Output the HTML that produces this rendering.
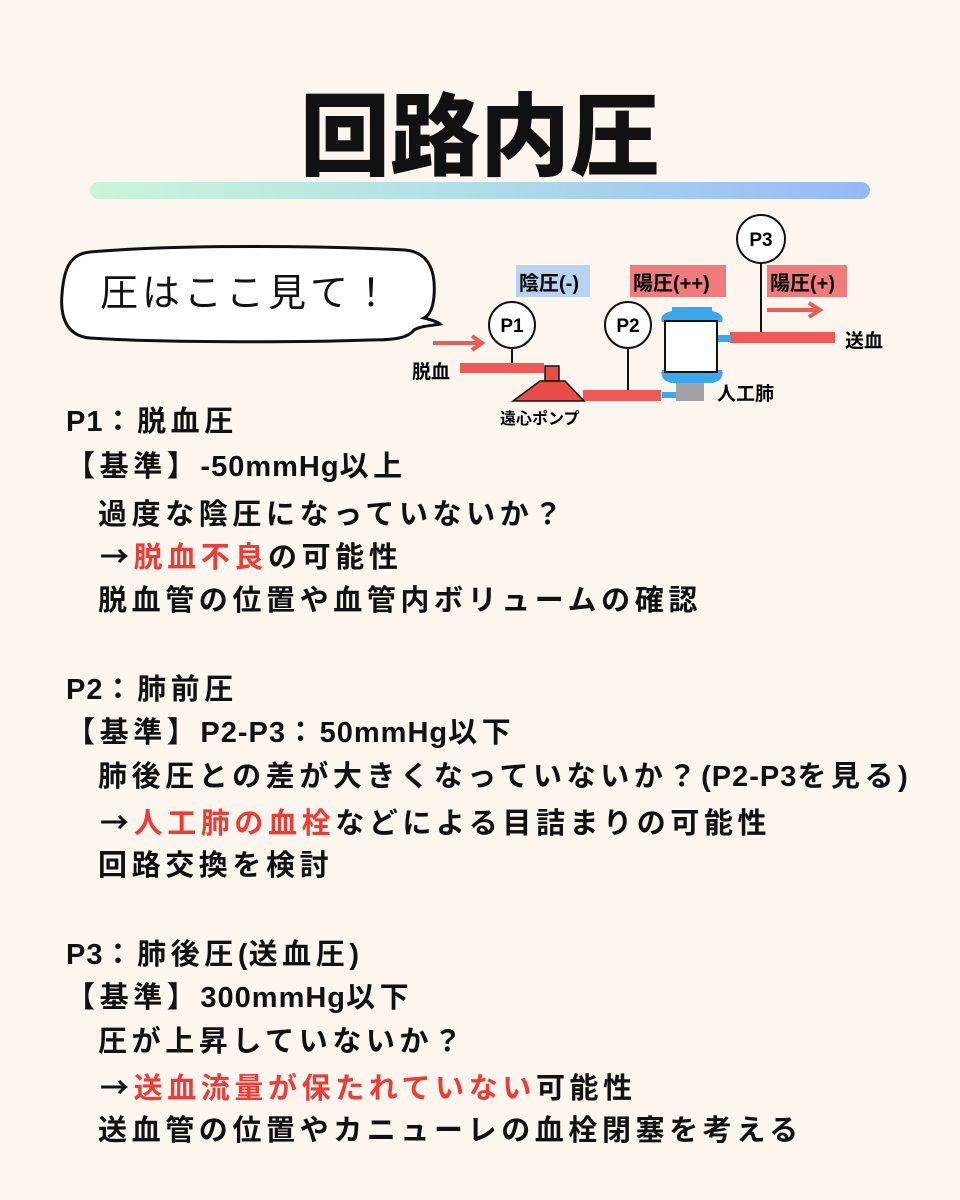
<!DOCTYPE html>
<html><head><meta charset="utf-8">
<style>
*{margin:0;padding:0;box-sizing:border-box}
body{width:960px;height:1200px;background:#fdf6ef;position:relative;overflow:hidden;font-family:"Liberation Sans","Noto Sans CJK JP",sans-serif;color:#111}
.t{position:absolute;font-size:29px;font-weight:bold;line-height:44px;letter-spacing:4.6px;white-space:nowrap}
.r{color:#ef3b36}
.l{letter-spacing:1px}
.a{font-family:"Noto Sans CJK JP",sans-serif}
.title{position:absolute;left:0;width:960px;top:86px;text-align:center;font-size:90px;font-weight:900;line-height:104px}
.bar{position:absolute;left:90px;top:182px;width:780px;height:17px;border-radius:9px;background:linear-gradient(90deg,#c9f6d8,#b3e0e6 45%,#96b9f8)}
</style></head><body>
<div class="title">回路内圧</div>
<div class="bar"></div>

<svg style="position:absolute;left:0;top:0" width="960" height="440" font-family="Liberation Sans, Noto Sans CJK JP, sans-serif" font-weight="bold">
  <path d="M90 252 C180 244 330 246 405 250 C428 252 436 270 434 296 C433 308 430 315 424 318 C432 320 438 322 440 324 C430 326 420 326 414 330 C408 338 395 340 370 340 C280 343 150 342 90 338 C66 336 60 316 62 294 C64 268 70 254 90 252 Z" fill="#fff" stroke="#111" stroke-width="3"/>
  <text x="100" y="306" font-size="38" font-weight="normal" letter-spacing="4" fill="#111">圧はここ見て！</text>

  <rect x="516" y="265" width="74" height="32" fill="#b7d3ef"/>
  <text x="519" y="290" font-size="20">陰圧(-)</text>
  <rect x="630" y="265" width="96" height="32" fill="#ef7b7b"/>
  <text x="633" y="290" font-size="20">陽圧(++)</text>
  <rect x="767" y="265" width="80" height="32" fill="#ef7b7b"/>
  <text x="770" y="290" font-size="20">陽圧(+)</text>

  <line x1="433" y1="343" x2="480" y2="343" stroke="#f05a56" stroke-width="4"/>
  <polyline points="472,336 482,343 472,350" fill="none" stroke="#f05a56" stroke-width="4"/>
  <line x1="767" y1="310" x2="818" y2="310" stroke="#f05a56" stroke-width="4"/>
  <polyline points="809,303 820,310 809,317" fill="none" stroke="#f05a56" stroke-width="4"/>

  <line x1="512" y1="349" x2="512" y2="364" stroke="#111" stroke-width="2"/>
  <line x1="628" y1="349" x2="628" y2="391" stroke="#111" stroke-width="2"/>
  <line x1="761" y1="262" x2="761" y2="333" stroke="#111" stroke-width="2"/>

  <rect x="460" y="363" width="84" height="10" fill="#f05a56"/>
  <rect x="583" y="390" width="78" height="11" fill="#f05a56"/>
  <rect x="730" y="332" width="105" height="11" fill="#f05a56"/>
  <rect x="545" y="366" width="14" height="15" fill="#e94b48" stroke="#111" stroke-width="1.5"/>
  <path d="M513 401 L540 381 L565 381 L584 401 Z" fill="#e94b48" stroke="#111" stroke-width="1.5"/>
  <rect x="662" y="392" width="14" height="6" fill="#3aa8ef"/>
  <rect x="676" y="382" width="28" height="19" fill="#a3a3a3"/>
  <rect x="717" y="335" width="14" height="7" fill="#3aa8ef"/>
  <path d="M672 307 L712 307 L712 311 C722 313 724 318 722 322 L662 322 C660 318 662 313 672 311 Z" fill="#3aa8ef"/>
  <path d="M662 370 L722 370 C724 376 720 382 712 383 L672 383 C664 382 660 376 662 370 Z" fill="#3aa8ef"/>
  <rect x="665" y="321" width="52" height="51" fill="#fff" stroke="#111" stroke-width="2"/>

  <circle cx="512" cy="325" r="23" fill="#fff" stroke="#111" stroke-width="2"/>
  <text x="512" y="332" font-size="19" text-anchor="middle">P1</text>
  <circle cx="628" cy="325" r="23" fill="#fff" stroke="#111" stroke-width="2"/>
  <text x="628" y="332" font-size="19" text-anchor="middle">P2</text>
  <circle cx="761" cy="239" r="24" fill="#fff" stroke="#111" stroke-width="2"/>
  <text x="761" y="246" font-size="19" text-anchor="middle">P3</text>

  <text x="412" y="378" font-size="19">脱血</text>
  <text x="845" y="347" font-size="19">送血</text>
  <text x="717" y="400" font-size="19">人工肺</text>
  <text x="500" y="424" font-size="16">遠心ポンプ</text>
</svg>

<div class="t" style="left:66px;top:400px"><span class="l">P1</span>：脱血圧</div>
<div class="t" style="left:66px;top:445px">【基準】<span class="l">-50mmHg</span>以上</div>
<div class="t" style="left:98px;top:493px">過度な陰圧になっていないか？</div>
<div class="t" style="left:100px;top:533px"><span class="a">→</span><span class="r">脱血不良</span>の可能性</div>
<div class="t" style="left:98px;top:579px">脱血管の位置や血管内ボリュームの確認</div>

<div class="t" style="left:66px;top:668px"><span class="l">P2</span>：肺前圧</div>
<div class="t" style="left:66px;top:711px">【基準】<span class="l">P2-P3</span>：<span class="l">50mmHg</span>以下</div>
<div class="t" style="left:98px;top:755px">肺後圧との差が大きくなっていないか？<span class="l">(P2-P3</span>を見る<span class="l">)</span></div>
<div class="t" style="left:100px;top:799px"><span class="a">→</span><span class="r">人工肺の血栓</span>などによる目詰まりの可能性</div>
<div class="t" style="left:98px;top:844px">回路交換を検討</div>

<div class="t" style="left:66px;top:933px"><span class="l">P3</span>：肺後圧<span class="l">(</span>送血圧<span class="l">)</span></div>
<div class="t" style="left:66px;top:976px">【基準】<span class="l">300mmHg</span>以下</div>
<div class="t" style="left:98px;top:1020px">圧が上昇していないか？</div>
<div class="t" style="left:100px;top:1064px"><span class="a">→</span><span class="r">送血流量が保たれていない</span>可能性</div>
<div class="t" style="left:98px;top:1109px">送血管の位置やカニューレの血栓閉塞を考える</div>
</body></html>
